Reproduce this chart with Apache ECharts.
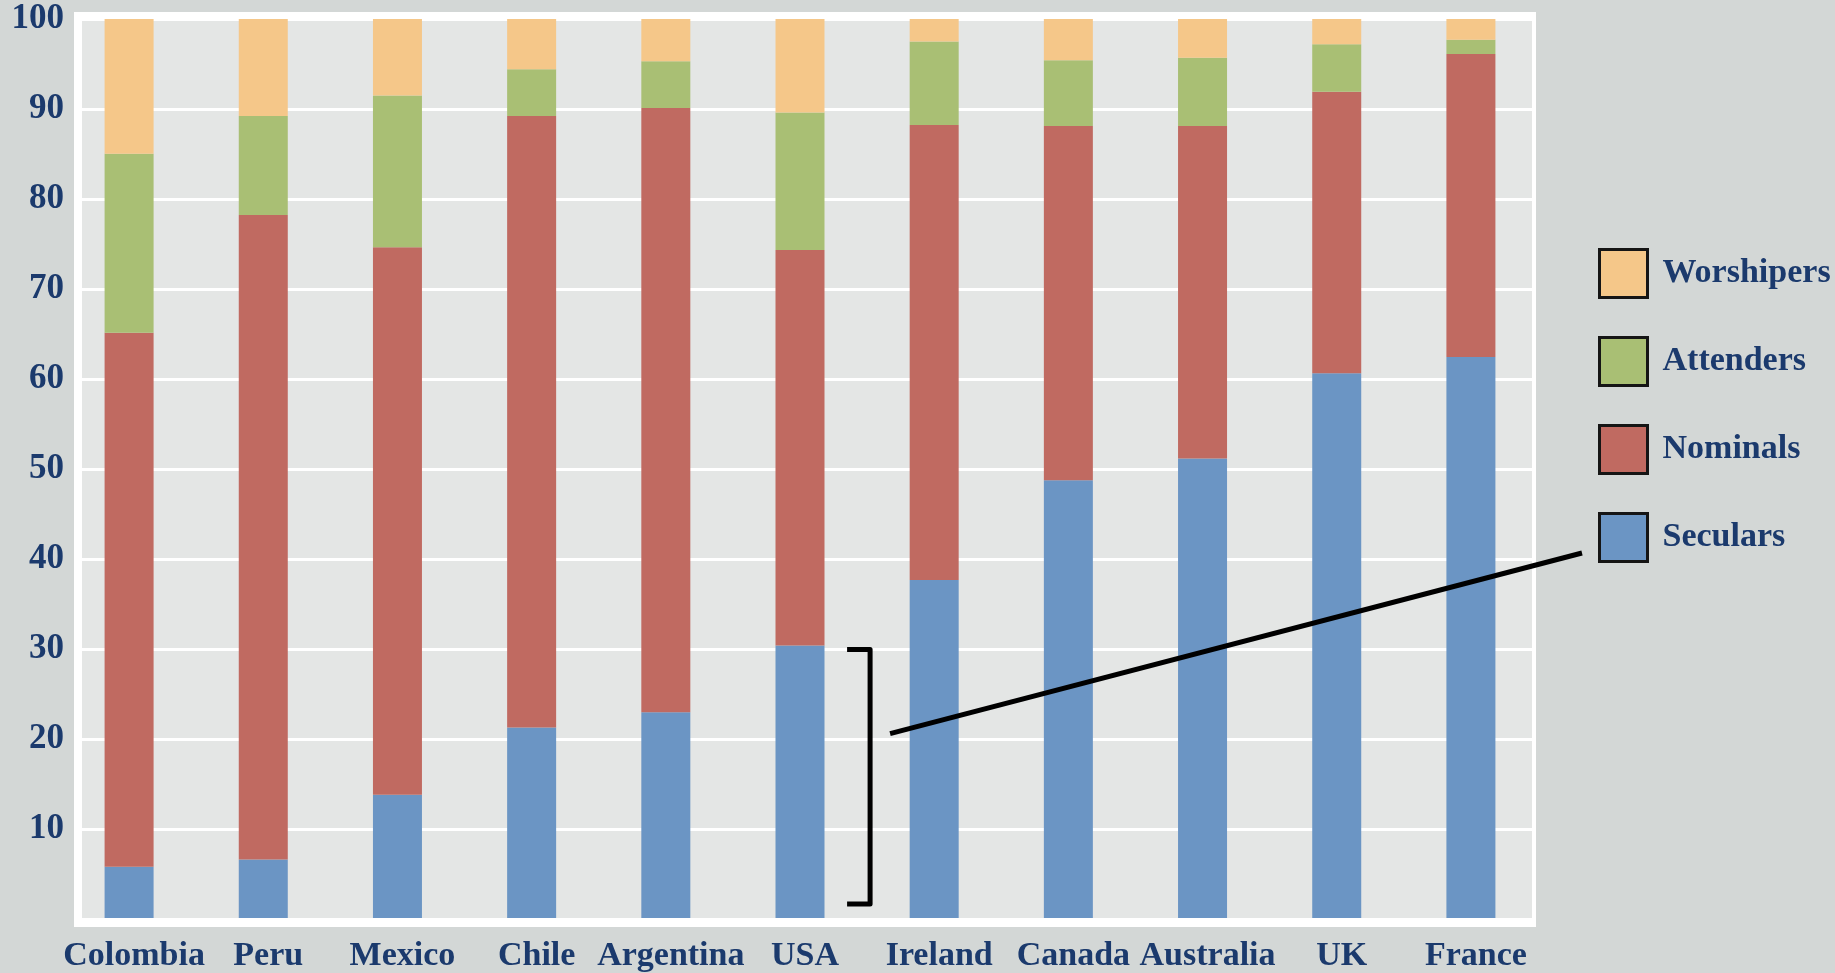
<!DOCTYPE html>
<html>
<head>
<meta charset="utf-8">
<title>Religious commitment by country</title>
<script src="https://cdn.jsdelivr.net/npm/echarts@6/dist/echarts.min.js"></script>
<style>
  html, body { margin: 0; padding: 0; background: #d3d7d6; }
  #chart { width: 1835px; height: 973px; }
</style>
</head>
<body>
<div id="chart"></div>
<script>
// Countries along the x axis
const categories = ['Colombia', 'Peru', 'Mexico', 'Chile', 'Argentina', 'USA', 'Ireland', 'Canada', 'Australia', 'UK', 'France'];

// Share of population (%) in each group, stacked bottom to top
const seculars   = [5.7, 6.5, 13.7, 21.2, 22.9, 30.3, 37.6, 48.7, 51.1, 60.6, 62.4];
const nominals   = [59.4, 71.7, 60.9, 68.0, 67.2, 44.0, 50.6, 39.4, 37.0, 31.3, 33.7];
const attenders  = [19.9, 11.0, 16.9, 5.2, 5.2, 15.3, 9.3, 7.3, 7.6, 5.3, 1.6];
const worshipers = [15.0, 10.8, 8.5, 5.6, 4.7, 10.4, 2.5, 4.6, 4.3, 2.8, 2.3];

// Value axis ticks
const yMin = 0, yMax = 100, yStep = 10;

const FONT = '"Liberation Serif", "Times New Roman", serif';
const NAVY = '#1b3a6d';

const chart = echarts.init(document.getElementById('chart'), null, { renderer: 'canvas' });

const option = {
  backgroundColor: '#d3d7d6',
  animation: false,
  graphic: {
    elements: [
      {
        id: 'frame',
        type: 'rect',
        z: -1,
        shape: { x: 74, y: 12, width: 1462, height: 915 },
        style: { fill: '#ffffff' }
      }
    ]
  },
  grid: [
    // bars
    { left: 62, top: 19, width: 1476, height: 900, show: false },
    // panel, gridlines and value labels
    { left: 82, top: 19, width: 1450, height: 900, show: true,
      backgroundColor: '#e4e6e5', borderWidth: 0 }
  ],
  xAxis: [
    {
      gridIndex: 0,
      type: 'category',
      data: categories,
      axisLine: { show: false },
      axisTick: { show: false },
      splitLine: { show: false },
      axisLabel: {
        interval: 0,
        margin: 21,
        color: NAVY,
        fontFamily: FONT,
        fontWeight: 'bold',
        fontSize: 34,
        padding: [0, 0, 0, 10]
      }
    },
    { gridIndex: 1, type: 'value', show: false, min: 0, max: 1 }
  ],
  yAxis: [
    { gridIndex: 0, type: 'value', min: yMin, max: yMax, interval: yStep, show: false },
    {
      gridIndex: 1,
      type: 'value',
      min: yMin,
      max: yMax,
      interval: yStep,
      axisLine: { show: false },
      axisTick: { show: false },
      splitLine: { show: true, lineStyle: { color: '#ffffff', width: 3 } },
      axisLabel: {
        margin: 18,
        color: NAVY,
        fontFamily: FONT,
        fontWeight: 'bold',
        fontSize: 35,
        formatter: v => (v === 0 ? '' : String(v))
      }
    }
  ],
  legend: {
    orient: 'vertical',
    left: 1593,
    top: 243,
    itemWidth: 48,
    itemHeight: 48,
    itemGap: 37,
    icon: 'rect',
    selectedMode: false,
    data: ['Worshipers', 'Attenders', 'Nominals', 'Seculars'],
    itemStyle: { borderColor: '#151515', borderWidth: 3 },
    textStyle: {
      color: NAVY,
      fontFamily: FONT,
      fontWeight: 'bold',
      fontSize: 34,
      padding: [0, 0, 0, 10]
    }
  },
  series: [
    { name: 'Seculars',   data: seculars,   color: '#6b95c4' },
    { name: 'Nominals',   data: nominals,   color: '#c06a61' },
    { name: 'Attenders',  data: attenders,  color: '#a9bf74' },
    { name: 'Worshipers', data: worshipers, color: '#f5c789' }
  ].map(s => ({
    name: s.name,
    type: 'bar',
    stack: 'total',
    xAxisIndex: 0,
    yAxisIndex: 0,
    barWidth: 49,
    data: s.data,
    itemStyle: { color: s.color },
    emphasis: { disabled: true }
  }))
};

chart.setOption(option);

// Bracket around the US secular share, with a pointer to the legend
const usa = categories.indexOf('USA');
const pUsaTop = chart.convertToPixel({ gridIndex: 0 }, [usa, seculars[usa]]);
const pBase = chart.convertToPixel({ gridIndex: 0 }, [usa, 0]);
const pNext = chart.convertToPixel({ gridIndex: 0 }, [usa + 1, 0]);
const bx = (pUsaTop[0] + pNext[0]) / 2 + 3;
const bTop = pUsaTop[1] + 4;
const bBottom = pBase[1] - 14;
const armLen = 23;

chart.setOption({
  graphic: {
    elements: [
      {
        id: 'bracket',
        type: 'polyline',
        z: 10,
        shape: { points: [[bx - armLen, bTop], [bx, bTop], [bx, bBottom], [bx - armLen, bBottom]] },
        style: { stroke: '#000000', lineWidth: 5, fill: null, lineJoin: 'round' }
      },
      {
        id: 'pointer',
        type: 'line',
        z: 10,
        shape: { x1: bx + 20, y1: bTop + (bBottom - bTop) * 0.33, x2: 1582, y2: 553 },
        style: { stroke: '#000000', lineWidth: 5 }
      }
    ]
  }
});
</script>
</body>
</html>
